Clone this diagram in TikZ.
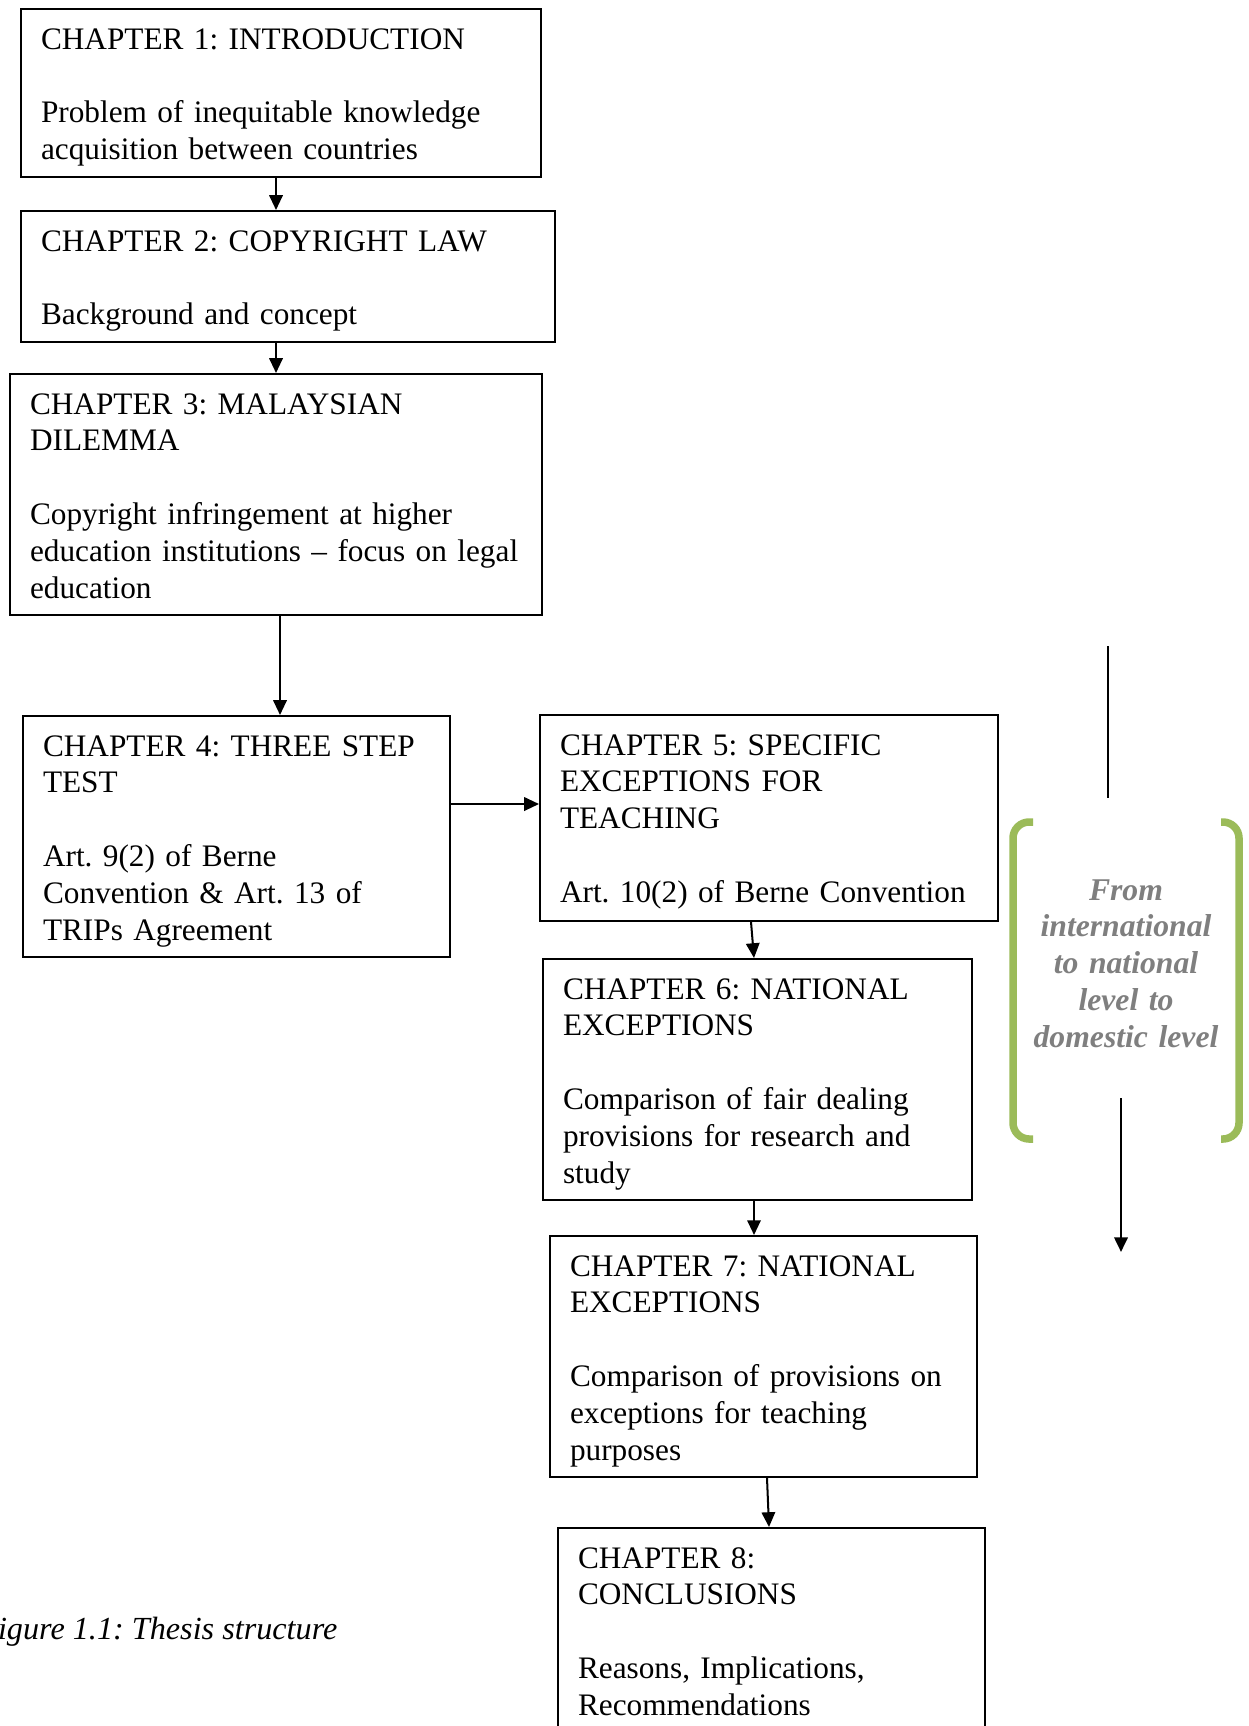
\documentclass[tikz,border=0pt]{standalone}
\usepackage{fontspec}
\setmainfont{Liberation Serif}
\usetikzlibrary{calc,positioning}
\usetikzlibrary{arrows.meta}
\tikzset{>={Triangle[length=5.5pt,width=5pt]}}
\definecolor{bracketgreen}{HTML}{9BBB59}
\definecolor{levelgray}{HTML}{7F7F7F}
\tikzset{chsize/.style 2 args={text width=(#1-40)*0.3725pt, text depth=#2*0.3725pt-18.6pt}}
\frenchspacing
\hyphenpenalty=10000
\exhyphenpenalty=10000

\begin{document}
\begin{tikzpicture}[x=0.3725pt,y=-0.3725pt]
  \tikzstyle{chbox} = [draw, line width=0.75pt, anchor=north west, align=left, inner xsep=7.45pt, inner ysep=3.7pt, text height=11.2pt, font=\fontsize{11.65}{13.75}\selectfont]
  \tikzstyle{arr} = [->, line width=0.75pt]
  \tikzstyle{brack} = [bracketgreen, line width=2.8pt, rounded corners=6pt]
  \tikzstyle{level} = [anchor=base, align=center, text width=82pt, inner sep=0pt, text=levelgray, font=\fontsize{11.8}{13.75}\selectfont\bfseries\itshape]

  \useasboundingbox (0,0) rectangle (1249,1726);
  \clip (0,0) rectangle (1249,1726);

  \node[chbox, chsize={520}{168}] (ch1) at (20,8) {CHAPTER 1: INTRODUCTION\\[\baselineskip] Problem of inequitable knowledge\\ acquisition between countries};
  \node[chbox, chsize={534}{131}] (ch2) at (20,210) {CHAPTER 2: COPYRIGHT LAW\\[\baselineskip] Background and concept};
  \node[chbox, chsize={532}{241}] (ch3) at (9,373) {CHAPTER 3: MALAYSIAN\\ DILEMMA\\[\baselineskip] Copyright infringement at higher\\ education institutions – focus on legal\\ education};
  \node[chbox, chsize={427}{241}] (ch4) at (22,715) {CHAPTER 4: THREE STEP\\ TEST\\[\baselineskip] Art. 9(2) of Berne\\ Convention \& Art. 13 of\\ TRIPs Agreement};
  \node[chbox, chsize={458}{206}] (ch5) at (539,714) {CHAPTER 5: SPECIFIC\\ EXCEPTIONS FOR\\ TEACHING\\[\baselineskip] Art. 10(2) of Berne Convention};
  \node[chbox, chsize={429}{241}] (ch6) at (542,958) {CHAPTER 6: NATIONAL\\ EXCEPTIONS\\[\baselineskip] Comparison of fair dealing\\ provisions for research and\\ study};
  \node[chbox, chsize={427}{241}] (ch7) at (549,1235) {CHAPTER 7: NATIONAL\\ EXCEPTIONS\\[\baselineskip] Comparison of provisions on\\ exceptions for teaching\\ purposes};
  \node[chbox, chsize={427}{241}] (ch8) at (557,1527) {CHAPTER 8:\\ CONCLUSIONS\\[\baselineskip] Reasons, Implications,\\ Recommendations};

  \draw[arr] ([shift={(-5,0)}]ch1.south) -- ([shift={(-12,0)}]ch2.north);
  \draw[arr] ([shift={(-12,0)}]ch2.south) -- ([shift={(0,0)}]ch3.north);
  \draw[arr] ([shift={(4,0)}]ch3.south) -- ([shift={(43.5,0)}]ch4.north);
  \draw[arr] ([shift={(0,-32.5)}]ch4.east) -- ([shift={(0,-14)}]ch5.west);
  \draw[arr] ([shift={(-18,0)}]ch5.south) -- ([shift={(-3.5,0)}]ch6.north);
  \draw[arr] ([shift={(-3.5,0)}]ch6.south) -- ([shift={(-9.5,0)}]ch7.north);
  \draw[arr] ([shift={(3.5,0)}]ch7.south) -- ([shift={(-2.5,0)}]ch8.north);

  \coordinate (flowtop) at (1108,646);
  \coordinate (flowmid) at (1108,798);
  \coordinate (flowout) at (1121,1098);
  \coordinate (flowend) at (1121,1252);
  \draw[line width=0.6pt] (flowtop) -- (flowmid);
  \draw[arr, line width=1pt] (flowout) -- (flowend);

  \draw[brack] (1033,822) -- (1013,822) -- (1013,1139) -- (1033,1139);
  \draw[brack] (1221,822) -- (1239,822) -- (1239,1139) -- (1221,1139);
  \node[level] (lvl) at (1126,900) {From\\ international\\ to national\\ level to\\ domestic level};

  \node[anchor=base east, inner sep=0pt, font=\fontsize{12}{13.8}\selectfont\itshape] (cap) at (338,1639) {Figure 1.1: Thesis structure};
\end{tikzpicture}
\end{document}
